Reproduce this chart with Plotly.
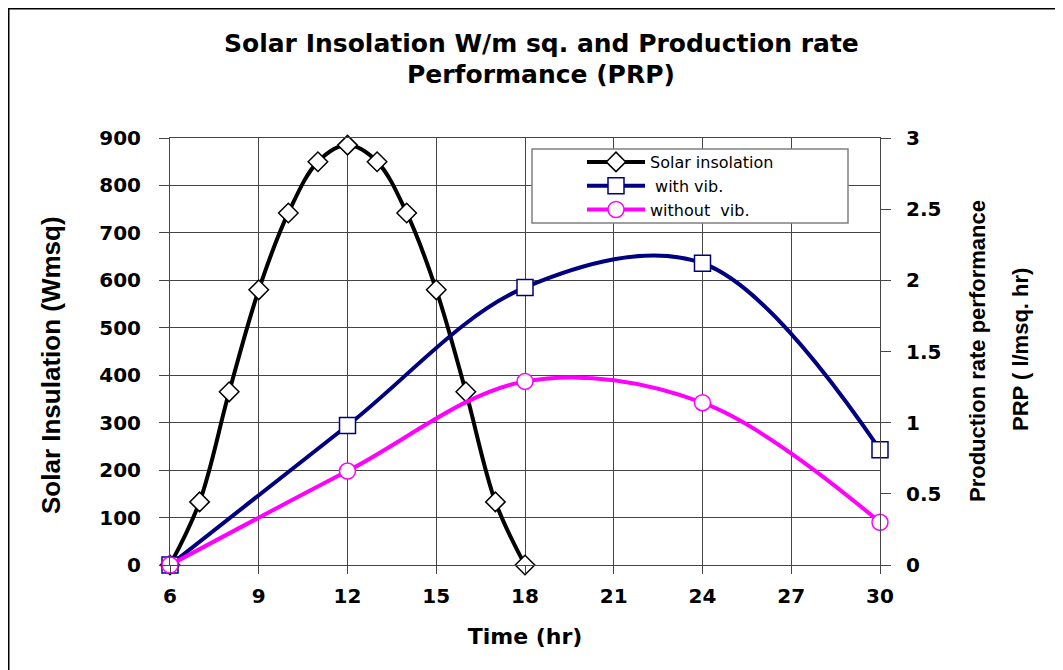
import plotly.graph_objects as go

# ---- data ----
solar_time = [6, 7, 8, 9, 10, 11, 12, 13, 14, 15, 16, 17, 18]
solar_insolation = [0, 133, 365, 580, 742, 850, 885, 850, 742, 580, 365, 133, 0]

prp_time = [6, 12, 18, 24, 30]
with_vib = [0, 0.98, 1.95, 2.12, 0.81]
without_vib = [0, 0.66, 1.29, 1.14, 0.30]

x_ticks = [6, 9, 12, 15, 18, 21, 24, 27, 30]

ARIAL = "Liberation Sans, Arial, Helvetica, sans-serif"
WIDE = "DejaVu Sans, Verdana, sans-serif"

# page offset of the figure (html body margin)
OFF = 8
PAGE_W, PAGE_H = 1063, 670
FIG_W, FIG_H = PAGE_W - OFF, PAGE_H - OFF

# plot-area geometry in reference page pixels
L, R, T, B = 170, 880, 138, 565
W, H = R - L, B - T


def px_x(p):
    return (p - L) / W


def px_y(p):
    return (B - p) / H


fig = go.Figure()

fig.add_trace(go.Scatter(
    x=solar_time, y=solar_insolation, name="Solar insolation",
    mode="lines+markers", line=dict(color="black", width=4, shape="spline", smoothing=1),
    marker=dict(symbol="diamond", size=15, color="white", line=dict(color="black", width=1.5)),
    cliponaxis=False,
))
fig.add_trace(go.Scatter(
    x=prp_time, y=with_vib, name=" with vib.", yaxis="y2",
    mode="lines+markers", line=dict(color="#000080", width=4, shape="spline", smoothing=1),
    marker=dict(symbol="square", size=16, color="white", line=dict(color="#000080", width=1.5)),
    cliponaxis=False,
))
fig.add_trace(go.Scatter(
    x=prp_time, y=without_vib, name="without  vib.", yaxis="y2",
    mode="lines+markers", line=dict(color="#FF00FF", width=4, shape="spline", smoothing=1),
    marker=dict(symbol="circle", size=16, color="white", line=dict(color="#FF00FF", width=1.5)),
    cliponaxis=False,
))

grid_col = "#454545"
tickfont = dict(family=WIDE, size=20, color="black", weight="bold")

fig.update_layout(
    width=FIG_W, height=FIG_H,
    margin=dict(l=L - OFF, r=FIG_W - (R - OFF), t=T - OFF, b=FIG_H - (B - OFF)),
    paper_bgcolor="white", plot_bgcolor="white",
    xaxis=dict(
        range=[6, 30], tickvals=x_ticks, ticktext=[str(v) for v in x_ticks],
        showgrid=True, gridcolor=grid_col, gridwidth=1,
        showline=True, linecolor=grid_col, linewidth=1, mirror=True,
        ticks="outside", ticklen=8, tickcolor=grid_col,
        tickfont=tickfont, zeroline=False, ticklabelstandoff=5,
        title=dict(text="Time (hr)", font=dict(family=WIDE, size=22, color="black", weight="bold"), standoff=21),
    ),
    yaxis=dict(
        range=[0, 900], dtick=100,
        showgrid=True, gridcolor=grid_col, gridwidth=1,
        showline=True, linecolor=grid_col, linewidth=1,
        ticks="outside", ticklen=10, tickcolor=grid_col,
        tickfont=tickfont, zeroline=False, ticklabelstandoff=14,
    ),
    yaxis2=dict(
        range=[0, 3], dtick=0.5, overlaying="y", side="right",
        showgrid=False, showline=True, linecolor=grid_col, linewidth=1,
        ticks="outside", ticklen=10, tickcolor=grid_col,
        tickfont=tickfont, zeroline=False, ticklabelstandoff=11,
    ),
    legend=dict(
        x=px_x(582), y=px_y(145), xanchor="left", yanchor="top",
        bgcolor="rgba(0,0,0,0)", borderwidth=0,
        font=dict(family=WIDE, size=16, color="black"),
        itemwidth=58, tracegroupgap=0,
    ),
    showlegend=True,
)

# chart title (two centred lines)
fig.add_annotation(text="Solar Insolation W/m sq. and Production rate", xref="paper", yref="paper",
                   x=px_x(541), y=px_y(44), xanchor="center", yanchor="middle", showarrow=False,
                   font=dict(family=WIDE, size=25, color="black", weight="bold"))
fig.add_annotation(text="Performance (PRP)", xref="paper", yref="paper",
                   x=px_x(541), y=px_y(74), xanchor="center", yanchor="middle", showarrow=False,
                   font=dict(family=WIDE, size=25, color="black", weight="bold"))

# legend box
fig.add_shape(type="rect", xref="paper", yref="paper",
              x0=px_x(532), x1=px_x(848), y0=px_y(223), y1=px_y(149),
              line=dict(color="#808080", width=1.5), fillcolor="white", layer="above")

# outer frame (top and left edges visible)
fig.add_shape(type="line", xref="paper", yref="paper",
              x0=px_x(OFF), x1=px_x(PAGE_W + 10), y0=px_y(OFF), y1=px_y(OFF),
              line=dict(color="black", width=3))
fig.add_shape(type="line", xref="paper", yref="paper",
              x0=px_x(OFF), x1=px_x(OFF), y0=px_y(OFF), y1=px_y(PAGE_H + 10),
              line=dict(color="black", width=3))

# axis titles
fig.add_annotation(text="Solar Insulation (Wmsq)", xref="paper", yref="paper",
                   x=px_x(51), y=px_y(365), xanchor="center", yanchor="middle",
                   textangle=-90, showarrow=False,
                   font=dict(family=ARIAL, size=26, color="black", weight="bold"))
fig.add_annotation(text="Production rate performance", xref="paper", yref="paper",
                   x=px_x(977), y=px_y(351), xanchor="center", yanchor="middle",
                   textangle=-90, showarrow=False,
                   font=dict(family=ARIAL, size=22, color="black", weight="bold"))
fig.add_annotation(text="PRP ( l/msq. hr)", xref="paper", yref="paper",
                   x=px_x(1020), y=px_y(350), xanchor="center", yanchor="middle",
                   textangle=-90, showarrow=False,
                   font=dict(family=ARIAL, size=22, color="black", weight="bold"))

fig.write_html("out.html")
